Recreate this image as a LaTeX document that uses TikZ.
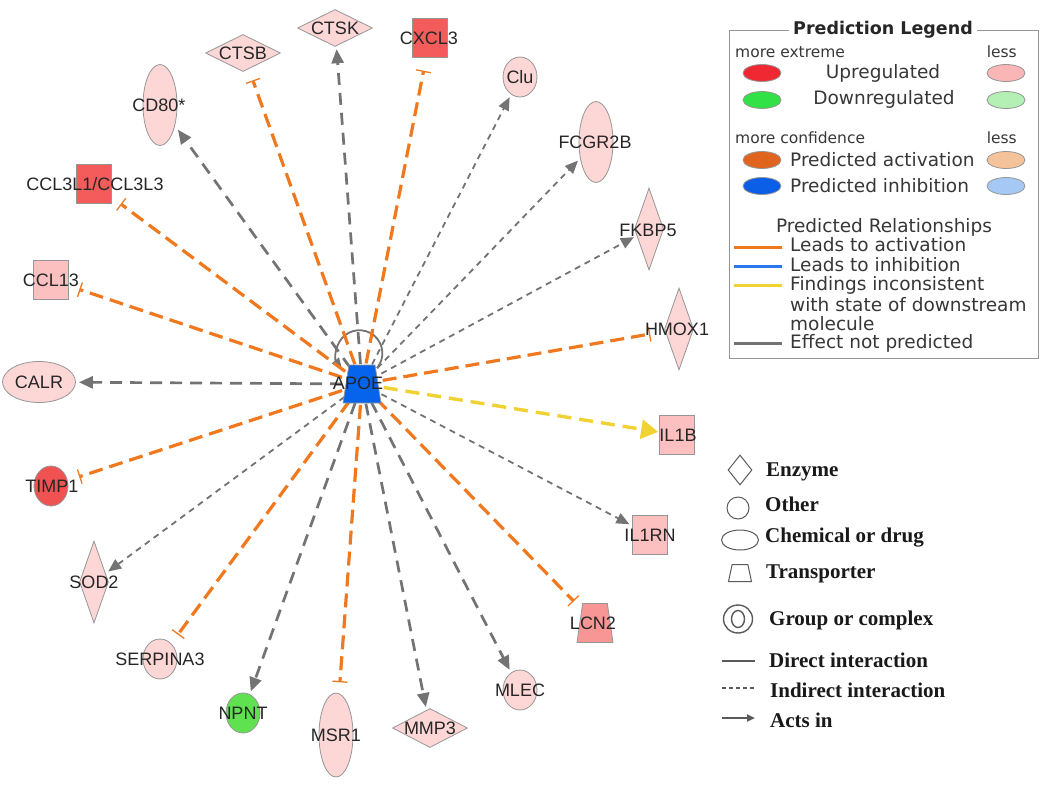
\documentclass[tikz,border=0pt]{standalone}
\usepackage{fontspec}
\setmainfont{Liberation Sans}
\newfontfamily\legfont{DejaVu Sans}
\newfontfamily\serfont{Liberation Serif}
\usetikzlibrary{shapes.geometric,arrows.meta,backgrounds}
\definecolor{nodepink}{RGB}{253,214,214}
\definecolor{nodered}{RGB}{244,92,92}
\definecolor{nodetimp}{RGB}{240,82,82}
\definecolor{nodemid}{RGB}{252,192,192}
\definecolor{nodelcn}{RGB}{248,150,150}
\definecolor{nodegreen}{RGB}{95,225,80}
\definecolor{apoeblue}{RGB}{5,100,235}
\definecolor{nodeborder}{RGB}{150,150,150}
\definecolor{actorange}{RGB}{240,120,30}
\definecolor{effgray}{RGB}{115,115,115}
\definecolor{incyellow}{RGB}{240,210,50}
\definecolor{inhblue}{RGB}{40,120,235}
\definecolor{legred}{RGB}{240,40,50}
\definecolor{leggreen}{RGB}{50,225,70}
\definecolor{legpink}{RGB}{250,182,182}
\definecolor{leglgreen}{RGB}{180,240,180}
\definecolor{legorange}{RGB}{225,100,30}
\definecolor{legblue}{RGB}{10,95,230}
\definecolor{legpeach}{RGB}{245,195,155}
\definecolor{leglblue}{RGB}{165,200,245}
\definecolor{legtext}{RGB}{55,55,55}
\definecolor{legline}{RGB}{90,90,90}
\newcommand\fsz[1]{\fontsize{#1}{#1}\selectfont}
\tikzset{
  base/.style={draw=nodeborder, line width=0.8pt, inner sep=0pt, fill=nodepink},
  sqnode/.style={base, rectangle, minimum width=35pt, minimum height=39pt},
  circnode/.style={base, ellipse, minimum width=34pt, minimum height=40pt},
  vellnode/.style={base, ellipse, minimum width=34pt, minimum height=81pt},
  hellnode/.style={base, ellipse, minimum width=73pt, minimum height=41pt},
  hdianode/.style={base, diamond, minimum width=75pt, minimum height=37pt},
  vdianode/.style={base, diamond, minimum width=29pt, minimum height=82pt},
  trapnode/.style={base, trapezium, inner sep=1pt, trapezium stretches=true, trapezium left angle=77, trapezium right angle=77, minimum width=36pt, minimum height=39pt},
  lbl/.style={font=\fsz{18}, text=black!85, inner sep=0pt},
  actedge/.style={draw=actorange, line width=3.2pt, dash pattern=on 14pt off 7pt, -{Bar[width=15pt,line width=1.3pt]}, shorten >=11pt},
  grayedge/.style={draw=effgray, line width=2.7pt, dash pattern=on 12pt off 8pt, -{Triangle[length=14pt,width=12pt]}, shorten >=3pt},
  thinedge/.style={draw=effgray, line width=1.8pt, dash pattern=on 6pt off 5pt, -{Triangle[length=13pt,width=11pt]}, shorten >=3pt},
  yelledge/.style={draw=incyellow, line width=3.4pt, dash pattern=on 14pt off 8pt, -{Triangle[length=17pt,width=19pt]}, shorten >=1pt},
  loopedge/.style={draw=effgray, line width=1.8pt, -{Triangle[length=10pt,width=9pt]}},
  legell/.style={draw=nodeborder, line width=0.8pt, ellipse, minimum width=38pt, minimum height=17pt, inner sep=0pt},
  legtxt/.style={font=\legfont\fsz{18.5}, text=legtext, inner sep=0pt},
  legsmall/.style={font=\legfont\fsz{15.5}, text=legtext, inner sep=0pt},
  legln/.style={line width=3pt},
  sertxt/.style={font=\serfont\bfseries\fsz{21}, text=black!90, inner sep=0pt, anchor=west},
  icon/.style={draw=legline, line width=1pt, inner sep=0pt, fill=white}
}
\begin{document}
\begin{tikzpicture}[x=1pt,y=-1pt]
\useasboundingbox (0,0) rectangle (1050,788);
% nodes
\node[hdianode] (ctsb) at (243,53) {};
\node[hdianode] (ctsk) at (335,28) {};
\node[sqnode, fill=nodered] (cxcl3) at (430,38) {};
\node[circnode] (clu) at (520,77) {};
\node[vellnode] (fcgr2b) at (596,142) {};
\node[vdianode] (fkbp5) at (649,229) {};
\node[vdianode] (hmox1) at (679,329) {};
\node[sqnode, fill=nodemid] (il1b) at (677,435) {};
\node[sqnode, fill=nodemid] (il1rn) at (650,535) {};
\node[trapnode, fill=nodelcn] (lcn2) at (595,623) {};
\node[circnode] (mlec) at (520,690) {};
\node[hdianode, minimum height=39pt] (mmp3) at (430,728) {};
\node[vellnode, minimum height=84pt] (msr1) at (336,735) {};
\node[circnode, fill=nodegreen] (npnt) at (243,713) {};
\node[circnode] (serpina3) at (160,659) {};
\node[vdianode] (sod2) at (94,582) {};
\node[circnode, fill=nodetimp] (timp1) at (51,486) {};
\node[hellnode] (calr) at (39,382) {};
\node[sqnode, fill=nodemid] (ccl13) at (51,280) {};
\node[sqnode, fill=nodered] (ccl3) at (94,184) {};
\node[vellnode] (cd80) at (160,105) {};
\node[trapnode, fill=apoeblue, minimum width=38pt, minimum height=38pt] (apoe) at (362,384) {};
% labels
\node[lbl] (ctsb-t) at (ctsb) {CTSB};
\node[lbl] (ctsk-t) at (ctsk) {CTSK};
\node[lbl] (cxcl3-t) at (429,38) {CXCL3};
\node[lbl] (clu-t) at (clu) {Clu};
\node[lbl] (fcgr2b-t) at (595,142) {FCGR2B};
\node[lbl] (fkbp5-t) at (648,230) {FKBP5};
\node[lbl] (hmox1-t) at (677,329) {HMOX1};
\node[lbl] (il1b-t) at (678,435) {IL1B};
\node[lbl] (il1rn-t) at (il1rn) {IL1RN};
\node[lbl] (lcn2-t) at (593,623) {LCN2};
\node[lbl] (mlec-t) at (mlec) {MLEC};
\node[lbl] (mmp3-t) at (mmp3) {MMP3};
\node[lbl] (msr1-t) at (msr1) {MSR1};
\node[lbl] (npnt-t) at (npnt) {NPNT};
\node[lbl] (serpina3-t) at (serpina3) {SERPINA3};
\node[lbl] (sod2-t) at (sod2) {SOD2};
\node[lbl] (timp1-t) at (52,486) {TIMP1};
\node[lbl] (calr-t) at (calr) {CALR};
\node[lbl] (ccl13-t) at (ccl13) {CCL13};
\node[lbl] (ccl3-t) at (95,184) {CCL3L1/CCL3L3};
\node[lbl] (cd80-t) at (159,105) {CD80*};
\node[lbl] (apoe-t) at (358,383) {APOE};
% edges
\begin{pgfonlayer}{background}
\fill[white] (0,0) rectangle (1050,788);
\coordinate (loopstart) at (377,368);
\draw[loopedge] (loopstart) arc[start angle=40, end angle=-220, radius=23];
\draw[actedge, shorten >=12pt] (apoe.center) -- (ctsb);
\draw[actedge, shorten >=13pt] (apoe.center) -- (cxcl3);
\draw[actedge] (apoe.center) -- (ccl3);
\draw[actedge] (apoe.center) -- (ccl13);
\draw[actedge, shorten >=15pt] (apoe.center) -- (hmox1);
\draw[actedge, shorten >=12pt] (apoe.center) -- (timp1);
\draw[actedge] (apoe.center) -- (serpina3);
\draw[actedge] (apoe.center) -- (msr1);
\draw[actedge] (apoe.center) -- (lcn2);
\draw[grayedge, shorten >=5pt] (apoe.center) -- (cd80);
\draw[grayedge] (apoe.center) -- (ctsk);
\draw[grayedge] (apoe.center) -- (calr);
\draw[grayedge] (apoe.center) -- (npnt);
\draw[grayedge] (apoe.center) -- (mmp3);
\draw[grayedge] (apoe.center) -- (mlec);
\draw[thinedge] (apoe.center) -- (clu);
\draw[thinedge] (apoe.center) -- (fcgr2b);
\draw[thinedge] (apoe.center) -- (fkbp5);
\draw[thinedge] (apoe.center) -- (il1rn);
\draw[thinedge] (apoe.center) -- (sod2);
\draw[yelledge] (apoe.center) -- (il1b);
\end{pgfonlayer}
% prediction legend
\draw[draw=nodeborder, line width=1pt] (729,30) rectangle (1038,358);
\node[font=\legfont\bfseries\fsz{17.5}, text=black!85, fill=white, inner sep=4pt] (legtitle) at (883,30) {Prediction Legend};
\node[legsmall, anchor=west] (lg-me) at (735,52) {more extreme};
\node[legsmall, anchor=east] (lg-l1) at (1017,52) {less};
\node[legell, fill=legred] (e-red) at (762,73) {};
\node[legell, fill=legpink] (e-pink) at (1006,73) {};
\node[legtxt] (lg-up) at (883,73) {Upregulated};
\node[legell, fill=leggreen] (e-green) at (762,100) {};
\node[legell, fill=leglgreen] (e-lgreen) at (1006,100) {};
\node[legtxt] (lg-down) at (884,99) {Downregulated};
\node[legsmall, anchor=west] (lg-mc) at (735,138) {more confidence};
\node[legsmall, anchor=east] (lg-l2) at (1017,138) {less};
\node[legell, fill=legorange] (e-orange) at (762,160) {};
\node[legell, fill=legpeach] (e-peach) at (1006,160) {};
\node[legtxt, anchor=west] (lg-act) at (790,160) {Predicted activation};
\node[legell, fill=legblue] (e-blue) at (762,186) {};
\node[legell, fill=leglblue] (e-lblue) at (1006,186) {};
\node[legtxt, anchor=west] (lg-inh) at (790,186) {Predicted inhibition};
\node[legtxt] (lg-rel) at (884,227) {Predicted Relationships};
\coordinate (l1a) at (734,247); \coordinate (l1b) at (782,247);
\coordinate (l2a) at (734,266); \coordinate (l2b) at (782,266);
\coordinate (l3a) at (734,285); \coordinate (l3b) at (782,285);
\coordinate (l4a) at (734,343); \coordinate (l4b) at (782,343);
\draw[legln, draw=actorange] (l1a) -- (l1b);
\draw[legln, draw=inhblue] (l2a) -- (l2b);
\draw[legln, draw=incyellow] (l3a) -- (l3b);
\draw[legln, draw=effgray] (l4a) -- (l4b);
\node[legtxt, anchor=west] (lg-la) at (790,245) {Leads to activation};
\node[legtxt, anchor=west] (lg-li) at (790,265) {Leads to inhibition};
\node[legtxt, anchor=west] (lg-fi) at (790,285) {Findings inconsistent};
\node[legtxt, anchor=west] (lg-ws) at (790,305) {with state of downstream};
\node[legtxt, anchor=west] (lg-mo) at (790,324) {molecule};
\node[legtxt, anchor=west] (lg-en) at (790,343) {Effect not predicted};
% shape legend
\node[icon, diamond, minimum width=24pt, minimum height=30pt] (i-enz) at (740,470) {};
\node[sertxt] (t-enz) at (766,472) {Enzyme};
\node[icon, ellipse, minimum width=22pt, minimum height=22pt] (i-oth) at (738,508) {};
\node[sertxt] (t-oth) at (765,504) {Other};
\node[icon, ellipse, minimum width=37pt, minimum height=20pt] (i-chem) at (740,540) {};
\node[sertxt] (t-chem) at (765,538) {Chemical or drug};
\node[icon, trapezium, inner sep=1pt, trapezium stretches=true, trapezium left angle=77, trapezium right angle=77, minimum width=23pt, minimum height=17pt] (i-tra) at (740,573) {};
\node[sertxt] (t-tra) at (766,574) {Transporter};
\node[icon, ellipse, line width=1.4pt, minimum width=29pt, minimum height=28pt] (i-grp) at (738,619) {};
\node[icon, ellipse, line width=1.4pt, minimum width=13pt, minimum height=17pt] (i-grp2) at (738,619) {};
\node[sertxt] (t-grp) at (769,620) {Group or complex};
\coordinate (d1a) at (722,661); \coordinate (d1b) at (755,661);
\coordinate (d2a) at (722,688); \coordinate (d2b) at (755,688);
\coordinate (d3a) at (722,718); \coordinate (d3b) at (755,718);
\draw[draw=legline, line width=2.4pt] (d1a) -- (d1b);
\draw[draw=legline, line width=1.4pt, dash pattern=on 4pt off 3pt] (d2a) -- (d2b);
\draw[draw=legline, line width=2pt, -{Triangle[length=8pt,width=7pt]}] (d3a) -- (d3b);
\node[sertxt] (t-dir) at (769,660) {Direct interaction};
\node[sertxt] (t-ind) at (770,690) {Indirect interaction};
\node[sertxt] (t-act) at (770,720) {Acts in};
\end{tikzpicture}
\end{document}
